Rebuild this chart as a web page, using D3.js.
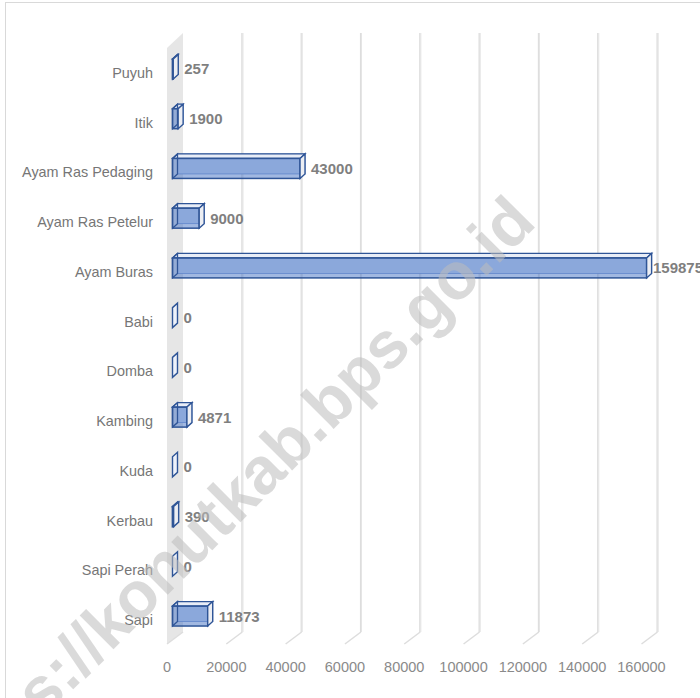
<!DOCTYPE html>
<html>
<head>
<meta charset="utf-8">
<script src="https://cdn.jsdelivr.net/npm/d3@7"></script>
<style>
  html, body { margin: 0; padding: 0; background: #fff; }
  svg { display: block; }
</style>
</head>
<body>
<div id="chart"></div>
<script>
const categories = ["Puyuh", "Itik", "Ayam Ras Pedaging", "Ayam Ras Petelur", "Ayam Buras", "Babi", "Domba", "Kambing", "Kuda", "Kerbau", "Sapi Perah", "Sapi"];
const values = [257, 1900, 43000, 9000, 159875, 0, 0, 4871, 0, 390, 0, 11873];
const tickValues = [0, 20000, 40000, 60000, 80000, 100000, 120000, 140000, 160000];
const watermarkText = "https://konutkab.bps.go.id";

const W = 700, H = 698;
const svg = d3.select("#chart").append("svg").attr("width", W).attr("height", H);

// layout constants
const backTop = 33, backBottom = 632;
const floorDX = -16, floorDY = 12;           // back plane -> front plane offset
const barFrontDX = -10.5;                     // bar front face offset from back plane
const barDX = 5, barDY = -4.5;                // bar depth (front -> back)

const xBack = d3.scaleLinear().domain([0, 160000]).range([183, 657.5]);
const y = d3.scaleBand().domain(categories).range([47.1, 643.9]).padding(0);
const yc = c => y(c) + y.bandwidth() / 2;

// chart border
svg.append("rect").attr("x", 5.5).attr("y", 2.5).attr("width", W).attr("height", H)
  .attr("fill", "none").attr("stroke", "#d9d9d9").attr("stroke-width", 1);

// left side wall
const x0 = xBack(0);
svg.append("path")
  .attr("d", `M${x0},${backTop} L${x0},${backBottom} L${x0 + floorDX},${backBottom + floorDY} L${x0 + floorDX},${backTop + 15} Z`)
  .attr("fill", "#e6e6e6");

// gridlines on back wall + floor
const grid = svg.append("g");
tickValues.forEach(v => {
  const xb = xBack(v);
  if (v !== 0) {
    grid.append("line").attr("x1", xb).attr("x2", xb).attr("y1", backTop).attr("y2", backBottom)
      .attr("stroke", "#d9d9d9").attr("stroke-width", 2);
    grid.append("line").attr("x1", xb + 0.3).attr("x2", xb + 0.3).attr("y1", backTop).attr("y2", backBottom)
      .attr("stroke", "#f6f6f6").attr("stroke-width", 0.5);
  }
  grid.append("line").attr("x1", xb).attr("y1", backBottom).attr("x2", xb + floorDX).attr("y2", backBottom + floorDY)
    .attr("stroke", "#dddddd").attr("stroke-width", 1.5);
});

// tick labels
svg.append("g").selectAll("text").data(tickValues).join("text")
  .attr("x", d => xBack(d) + floorDX)
  .attr("y", 667)
  .attr("text-anchor", "middle")
  .attr("dominant-baseline", "central")
  .attr("font-family", "'Liberation Sans', Arial, sans-serif")
  .attr("font-size", 14.5)
  .attr("fill", "#8a8a8a")
  .text(d => d);

// category labels
svg.append("g").selectAll("text").data(categories).join("text")
  .attr("x", 153)
  .attr("y", d => yc(d) + 1)
  .attr("text-anchor", "end")
  .attr("dominant-baseline", "central")
  .attr("font-family", "'Liberation Sans', Arial, sans-serif")
  .attr("font-size", 14.4)
  .attr("fill", "#767676")
  .text(d => d);

// bars (3D boxes)
const stroke = "#2f5597";
const bars = svg.append("g");
categories.forEach((c, i) => {
  const v = values[i];
  const xl = xBack(0) + barFrontDX;
  const xr = xBack(v) + barFrontDX;
  const t = yc(c) - 13, b = yc(c) + 7;
  const g = bars.append("g");
  if (v > 0) {
    // back face (seen through)
    g.append("rect").attr("x", xl + barDX).attr("y", t + barDY).attr("width", xr - xl).attr("height", b - t)
      .attr("fill", "#d3def2").attr("stroke", "#7d9ad2").attr("stroke-width", 0.8);
    // top face
    g.append("path").attr("d", `M${xl},${t} L${xl + barDX},${t + barDY} L${xr + barDX},${t + barDY} L${xr},${t} Z`)
      .attr("fill", "#e8edf7").attr("stroke", stroke).attr("stroke-width", 1.3);
    // front face
    g.append("rect").attr("x", xl).attr("y", t).attr("width", xr - xl).attr("height", b - t)
      .attr("fill", "rgba(68,114,196,0.5)").attr("stroke", stroke).attr("stroke-width", 1.5);
    // left end face
    g.append("path").attr("d", `M${xl},${t} L${xl + barDX},${t + barDY} L${xl + barDX},${b + barDY} L${xl},${b} Z`)
      .attr("fill", "none").attr("stroke", stroke).attr("stroke-width", 1.3);
  }
  // right end face
  g.append("path").attr("d", `M${xr},${t} L${xr + barDX},${t + barDY} L${xr + barDX},${b + barDY} L${xr},${b} Z`)
    .attr("fill", v > 0 ? "#eceef3" : "#eef2fa").attr("stroke", stroke).attr("stroke-width", 1.4);
});

// value labels
svg.append("g").selectAll("text").data(categories).join("text")
  .attr("x", (d, i) => Math.min(xBack(values[i]) + barFrontDX + barDX + 6, 653))
  .attr("y", d => yc(d) - 3)
  .attr("dominant-baseline", "central")
  .attr("font-family", "'Liberation Sans', Arial, sans-serif")
  .attr("font-weight", "bold")
  .attr("font-size", 15)
  .attr("fill", "#7f7f7f")
  .text((d, i) => values[i]);

// watermark
svg.append("text")
  .attr("transform", "translate(230,500) rotate(-45)")
  .attr("text-anchor", "middle")
  .attr("dominant-baseline", "central")
  .attr("font-family", "'Liberation Sans', Arial, sans-serif")
  .attr("font-weight", "bold")
  .attr("font-size", 66)
  .attr("fill", "#bdbdbd")
  .attr("opacity", 0.55)
  .text(watermarkText);
</script>
</body>
</html>
